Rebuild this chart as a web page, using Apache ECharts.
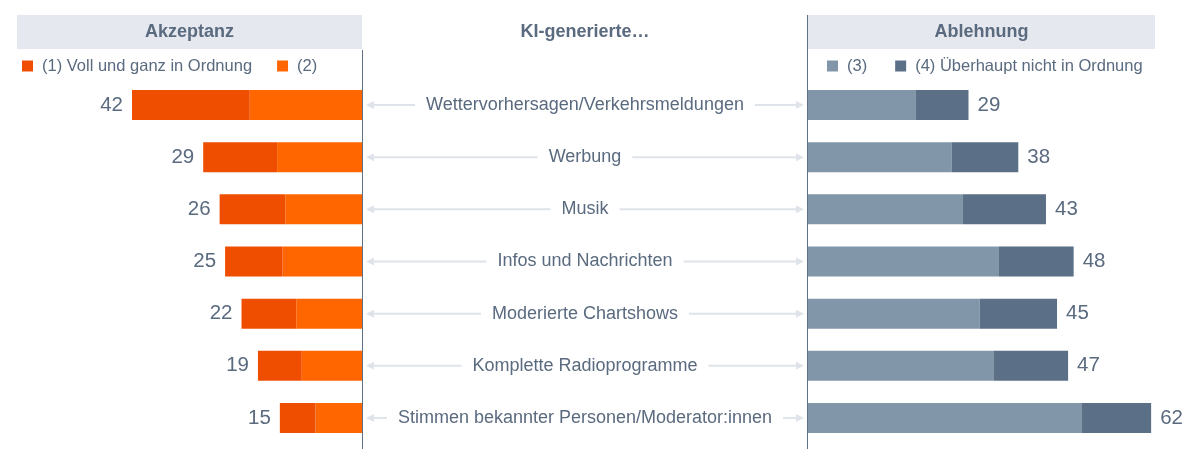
<!DOCTYPE html>
<html>
<head>
<meta charset="utf-8">
<script src="https://cdn.jsdelivr.net/npm/echarts@6/dist/echarts.min.js"></script>
<style>
html,body{margin:0;padding:0;background:#fff;}
#chart{width:1202px;height:465px;}
</style>
</head>
<body>
<div id="chart"></div>
<script>
const categories = [
  'Wettervorhersagen/Verkehrsmeldungen',
  'Werbung',
  'Musik',
  'Infos und Nachrichten',
  'Moderierte Chartshows',
  'Komplette Radioprogramme',
  'Stimmen bekannter Personen/Moderator:innen'
];
const seriesNames = ['(1) Voll und ganz in Ordnung', '(2)', '(3)', '(4) Überhaupt nicht in Ordnung'];
const akzeptanzTotal = [42, 29, 26, 25, 22, 19, 15];
const voll = [21.5, 13.5, 12, 10.5, 10, 8, 6.5];
const eher = [20.5, 15.5, 14, 14.5, 12, 11, 8.5];
const ablehnungTotal = [29, 38, 43, 48, 45, 47, 62];
const eherNicht = [19.5, 26, 28, 34.5, 31, 33.5, 49.5];
const ueberhauptNicht = [9.5, 12, 15, 13.5, 14, 13.5, 12.5];
const headers = ['Akzeptanz', 'KI-generierte…', 'Ablehnung'];

const FONT = '"Liberation Sans", Arial, sans-serif';
const TXT = '#5a6a7f';
const C1 = '#ef4e00', C2 = '#ff6600', C3 = '#8296a9', C4 = '#5b7086';
const ARROW = '#dfe3ea';

const chart = echarts.init(document.getElementById('chart'), null, {renderer: 'canvas'});
const measureCtx = document.createElement('canvas').getContext('2d');
const catFont = '18px ' + FONT;
measureCtx.font = catFont;

const gridTop = 79, gridH = 365;

function midItem(params, api) {
  const cs = params.coordSys;
  const idx = params.dataIndex;
  const p = api.coord([api.value(0), api.value(1)]);
  const y = p[1];
  const cx = cs.x + cs.width / 2;
  const name = categories[idx];
  const w = measureCtx.measureText(name).width;
  const tl = cx - w / 2 - 11, tr = cx + w / 2 + 11;
  const lx = cs.x + 4, rx = cs.x + cs.width - 4;
  return {
    type: 'group',
    children: [
      {type: 'line', shape: {x1: lx + 6, y1: y, x2: tl, y2: y}, style: {stroke: ARROW, lineWidth: 2}},
      {type: 'polygon', shape: {points: [[lx, y], [lx + 8, y - 4], [lx + 8, y + 4]]}, style: {fill: ARROW}},
      {type: 'line', shape: {x1: tr, y1: y, x2: rx - 6, y2: y}, style: {stroke: ARROW, lineWidth: 2}},
      {type: 'polygon', shape: {points: [[rx, y], [rx - 8, y - 4], [rx - 8, y + 4]]}, style: {fill: ARROW}},
      {type: 'text', style: {text: name, x: cx, y: y, align: 'center', verticalAlign: 'middle', font: catFont, fill: TXT}}
    ]
  };
}

const option = {
  backgroundColor: '#ffffff',
  animation: false,
  textStyle: {fontFamily: FONT},
  graphic: [
    {type: 'rect', left: 17, top: 15, shape: {width: 345, height: 34}, style: {fill: '#e5e8ee'}, z: -1},
    {type: 'rect', left: 808, top: 15, shape: {width: 347, height: 34}, style: {fill: '#e5e8ee'}, z: -1},
    {type: 'text', x: 189.5, y: 32, style: {text: headers[0], align: 'center', verticalAlign: 'middle', font: 'bold 18px ' + FONT, fill: TXT}},
    {type: 'text', x: 585, y: 32, style: {text: headers[1], align: 'center', verticalAlign: 'middle', font: 'bold 18px ' + FONT, fill: TXT}},
    {type: 'text', x: 981.5, y: 32, style: {text: headers[2], align: 'center', verticalAlign: 'middle', font: 'bold 18px ' + FONT, fill: TXT}},
    {type: 'line', shape: {x1: 362.5, y1: 50, x2: 362.5, y2: 449}, style: {stroke: '#5f6f84', lineWidth: 1}},
    {type: 'line', shape: {x1: 807.5, y1: 15, x2: 807.5, y2: 449}, style: {stroke: '#5f6f84', lineWidth: 1}}
  ],
  legend: [
    {
      data: [seriesNames[0], seriesNames[1]],
      left: 22, top: 57.5, padding: 0, itemWidth: 11, itemHeight: 11, itemGap: 25, icon: 'rect',
      textStyle: {fontSize: 16.5, color: TXT, fontFamily: FONT, padding: [0, 0, 0, 4]},
      selectedMode: false
    },
    {
      data: [seriesNames[2], seriesNames[3]],
      left: 827, top: 57.5, padding: 0, itemWidth: 11, itemHeight: 11, itemGap: 28, icon: 'rect',
      textStyle: {fontSize: 16.5, color: TXT, fontFamily: FONT, padding: [0, 0, 0, 4]},
      selectedMode: false
    }
  ],
  grid: [
    {left: 17, width: 345, top: gridTop, height: gridH},
    {left: 362, width: 446, top: gridTop, height: gridH},
    {left: 808, width: 347, top: gridTop, height: gridH}
  ],
  xAxis: [
    {gridIndex: 0, type: 'value', min: 0, max: 63, inverse: true, show: false},
    {gridIndex: 1, type: 'value', min: 0, max: 1, show: false},
    {gridIndex: 2, type: 'value', min: 0, max: 62.7, show: false}
  ],
  yAxis: [
    {gridIndex: 0, type: 'category', data: categories, inverse: true, show: false},
    {gridIndex: 1, type: 'category', data: categories, inverse: true, show: false},
    {gridIndex: 2, type: 'category', data: categories, inverse: true, show: false}
  ],
  series: [
    {
      name: seriesNames[1], type: 'bar', stack: 'akz', xAxisIndex: 0, yAxisIndex: 0,
      data: eher, barWidth: 30, itemStyle: {color: C2}, silent: true
    },
    {
      name: seriesNames[0], type: 'bar', stack: 'akz', xAxisIndex: 0, yAxisIndex: 0,
      data: voll, barWidth: 30, itemStyle: {color: C1}, silent: true,
      label: {
        show: true, position: 'left', distance: 9, fontSize: 20.5, color: TXT, fontFamily: FONT,
        formatter: p => String(akzeptanzTotal[p.dataIndex])
      }
    },
    {
      name: seriesNames[2], type: 'bar', stack: 'abl', xAxisIndex: 2, yAxisIndex: 2,
      data: eherNicht, barWidth: 30, itemStyle: {color: C3}, silent: true
    },
    {
      name: seriesNames[3], type: 'bar', stack: 'abl', xAxisIndex: 2, yAxisIndex: 2,
      data: ueberhauptNicht, barWidth: 30, itemStyle: {color: C4}, silent: true,
      label: {
        show: true, position: 'right', distance: 9, fontSize: 20.5, color: TXT, fontFamily: FONT,
        formatter: p => String(ablehnungTotal[p.dataIndex])
      }
    },
    {
      type: 'custom', xAxisIndex: 1, yAxisIndex: 1, silent: true,
      data: categories.map((c, i) => [0.5, i]),
      renderItem: midItem
    }
  ]
};
chart.setOption(option);
</script>
</body>
</html>
